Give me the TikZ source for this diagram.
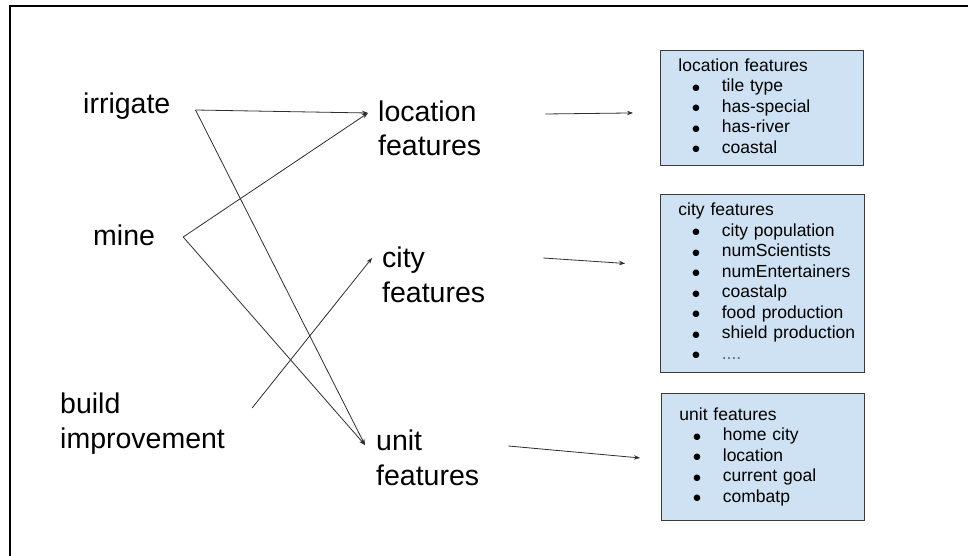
\documentclass[tikz,border=0pt]{standalone}
\usepackage{fontspec}
\setmainfont{Liberation Sans}
\newfontfamily\symfont{DejaVu Sans}
\usepackage{xcolor}
\usetikzlibrary{arrows.meta, positioning, calc}

\definecolor{boxblue}{HTML}{CFE2F3}
\definecolor{boxline}{HTML}{3A3A3A}
\definecolor{linkgray}{HTML}{2E2E2E}

\newcommand{\fitem}{\hspace{14pt}\raisebox{1.5pt}{\symfont\fontsize{8.5}{8.5}\selectfont ●} &}
\newcommand{\ftitle}[1]{\multicolumn{2}{@{\hspace{18pt}}l@{}}{#1}\\}

\begin{document}
\begin{tikzpicture}[x=1pt, y=-1pt,
  biglabel/.style={inner sep=0pt, anchor=base west, align=left,
    font=\fontsize{28.5}{34.5}\selectfont},
  featbox/.style={draw=boxline, fill=boxblue, line width=0.9pt,
    anchor=north west, inner sep=0pt, text width=203pt,
    execute at begin node=\noindent,
    font=\fontsize{17.5}{20.5}\selectfont},
  link/.style={draw=linkgray, line width=0.8pt,
    -{Stealth[length=6pt, width=4.5pt]}}]

  \useasboundingbox (0,0) rectangle (968,556);

  % Frame (open to the right and bottom)
  \draw[line width=2.2pt] (968,6) -- (10,6) -- (10,556);

  % --- Actions (base = last line) ---
  \node[biglabel] (irrigate) at (83,114) {irrigate};
  \node[biglabel] (mine) at (93,245) {mine};
  \node[biglabel] (build) at (60,448) {build\\improvement};

  % --- Feature groups ---
  \node[biglabel] (locfeat) at (378,156) {location\\features};
  \node[biglabel] (cityfeat) at (382,302) {city\\features};
  \node[biglabel] (unitfeat) at (376,485) {unit\\features};

  % --- Feature lists ---
  \node[featbox, minimum height=115pt] (locbox) at (660,50) {%
    \begin{tabular}{@{\hspace{18pt}}l@{\hspace{22pt}}l@{}}
      \ftitle{location features}
      \fitem tile type\\
      \fitem has-special\\
      \fitem has-river\\
      \fitem coastal
    \end{tabular}};

  \node[featbox, text width=204pt, minimum height=178pt] (citybox) at (660,194) {%
    \begin{tabular}{@{\hspace{18pt}}l@{\hspace{22pt}}l@{}}
      \ftitle{city features}
      \fitem city population\\
      \fitem numScientists\\
      \fitem numEntertainers\\
      \fitem coastalp\\
      \fitem food production\\
      \fitem shield production\\
      \fitem \textcolor{black!60}{....}
    \end{tabular}};

  \node[featbox, minimum height=127pt] (unitbox) at (661,393) {%
    \begin{tabular}{@{\hspace{18pt}}l@{\hspace{22pt}}l@{}}
      \ftitle{unit features}
      \fitem home city\\
      \fitem location\\
      \fitem current goal\\
      \fitem combatp
    \end{tabular}};

  % --- Connector ends ---
  \coordinate (irrigate-out) at ([shift={(25,-4)}]irrigate.base east);
  \coordinate (mine-out) at ([shift={(28,-8)}]mine.base east);
  \coordinate (build-out) at ([shift={(27,-40)}]build.base east);
  \coordinate (loc-in) at ([shift={(-10,-43)}]locfeat.base west);
  \coordinate (city-in) at ([shift={(-10,-44)}]cityfeat.base west);
  \coordinate (unit-in) at ([shift={(-11,-40)}]unitfeat.base west);
  \coordinate (loc-out) at ([shift={(64,-42)}]locfeat.base east);
  \coordinate (city-out) at ([shift={(58,-44)}]cityfeat.base east);
  \coordinate (unit-out) at ([shift={(29,-39)}]unitfeat.base east);
  \coordinate (locbox-in) at ([shift={(-27,5)}]locbox.west);
  \coordinate (citybox-in) at ([shift={(-35,-20)}]citybox.west);
  \coordinate (unitbox-in) at ([shift={(-21,1)}]unitbox.west);

  % --- Links ---
  \foreach \from/\to in {irrigate-out/loc-in, irrigate-out/unit-in,
      mine-out/loc-in, mine-out/unit-in, build-out/city-in,
      loc-out/locbox-in, city-out/citybox-in, unit-out/unitbox-in}
    \draw[link] (\from) -- (\to);

\end{tikzpicture}
\end{document}
